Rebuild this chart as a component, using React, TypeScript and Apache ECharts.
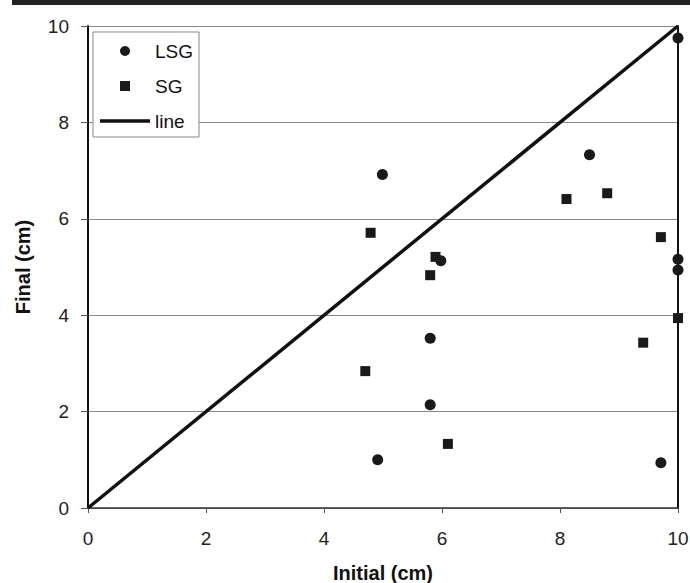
import React, { useEffect, useRef } from "react";
import * as echarts from "echarts";

const lsgPoints: number[][] = [
  [4.99, 6.92],
  [8.5, 7.33],
  [10, 9.75],
  [5.98, 5.13],
  [10, 5.16],
  [10, 4.94],
  [5.8, 3.52],
  [5.8, 2.14],
  [4.91, 1.0],
  [9.71, 0.94],
];

const sgPoints: number[][] = [
  [4.79, 5.71],
  [5.89, 5.21],
  [5.8, 4.83],
  [8.11, 6.41],
  [8.8, 6.53],
  [9.71, 5.62],
  [9.41, 3.43],
  [10, 3.94],
  [4.7, 2.84],
  [6.1, 1.33],
];

const linePoints: number[][] = [
  [0, 0],
  [10, 10],
];

const axisMin = 0;
const axisMax = 10;
const axisStep = 2;

const FONT = "'Liberation Sans', Arial, sans-serif";

export default function App() {
  const ref = useRef<HTMLDivElement>(null);
  useEffect(() => {
    if (!ref.current) return;
    const chart = echarts.init(ref.current, undefined, { renderer: "svg" });
    chart.setOption({
      animation: false,
      backgroundColor: "#ffffff",
      textStyle: { fontFamily: FONT },
      graphic: [
        {
          type: "rect",
          shape: { x: 12, y: 0, width: 690, height: 5 },
          style: { fill: "#222222" },
          z: 10,
        },
      ],
      grid: {
        left: 88,
        right: 12,
        top: 26,
        bottom: 75,
        containLabel: false,
        outerBoundsMode: "none",
      },
      legend: {
        orient: "vertical",
        left: 93,
        top: 32,
        padding: [9, 6, 6, 7],
        itemWidth: 50,
        itemHeight: 10,
        itemGap: 15,
        selectedMode: false,
        symbolKeepAspect: true,
        backgroundColor: "#ffffff",
        borderColor: "#888888",
        borderWidth: 1,
        textStyle: { fontSize: 19, color: "#111", fontFamily: FONT, lineHeight: 20 },
        data: [
          { name: "LSG", icon: "circle", itemStyle: { color: "#1a1a1a", opacity: 1 } },
          { name: "SG", icon: "path://M0,0L10,0L10,10L0,10Z", itemStyle: { color: "#1a1a1a", opacity: 1 } },
          { name: "line", icon: "path://M0,0L50,0L50,3.5L0,3.5Z", itemStyle: { color: "#111", opacity: 1 } },
        ],
        z: 20,
      },
      xAxis: {
        type: "value",
        min: axisMin,
        max: axisMax,
        interval: axisStep,
        name: "Initial (cm)",
        nameLocation: "middle",
        nameGap: 55,
        nameTextStyle: { fontSize: 20, fontWeight: "bold", color: "#111", fontFamily: FONT },
        axisLine: { show: true, lineStyle: { color: "#333", width: 1.5 } },
        axisTick: { show: true, length: 5, lineStyle: { color: "#555" } },
        axisLabel: { fontSize: 19, color: "#222", margin: 21, fontFamily: FONT },
        splitLine: { show: false },
      },
      yAxis: [
        {
          type: "value",
          min: axisMin,
          max: axisMax,
          interval: axisStep,
          name: "Final (cm)",
          nameLocation: "middle",
          nameGap: 55,
          nameTextStyle: { fontSize: 20, fontWeight: "bold", color: "#111", fontFamily: FONT },
          axisLine: { show: true, lineStyle: { color: "#111", width: 2 } },
          axisTick: { show: true, length: 7, lineStyle: { color: "#555" } },
          axisLabel: { fontSize: 19, color: "#222", margin: 19, fontFamily: FONT },
          splitLine: { show: true, lineStyle: { color: "#888", width: 1 } },
        },
        {
          type: "value",
          position: "right",
          min: axisMin,
          max: axisMax,
          interval: axisStep,
          axisLine: { show: true, lineStyle: { color: "#111", width: 2 } },
          axisTick: { show: false },
          axisLabel: { show: false },
          splitLine: { show: false },
        },
      ],
      series: [
        {
          name: "LSG",
          type: "scatter",
          symbol: "circle",
          symbolSize: 11,
          itemStyle: { color: "#1a1a1a", opacity: 1 },
          data: lsgPoints,
          z: 5,
        },
        {
          name: "SG",
          type: "scatter",
          symbol: "rect",
          symbolSize: 10,
          itemStyle: { color: "#1a1a1a", opacity: 1 },
          data: sgPoints,
          z: 5,
        },
        {
          name: "line",
          type: "line",
          symbol: "none",
          lineStyle: { color: "#111", width: 3.5 },
          itemStyle: { color: "#111" },
          data: linePoints,
          z: 4,
        },
      ],
    });
    return () => chart.dispose();
  }, []);
  return (
    <div
      ref={ref}
      style={{ position: "fixed", left: 0, top: 0, width: 690, height: 583 }}
    />
  );
}
